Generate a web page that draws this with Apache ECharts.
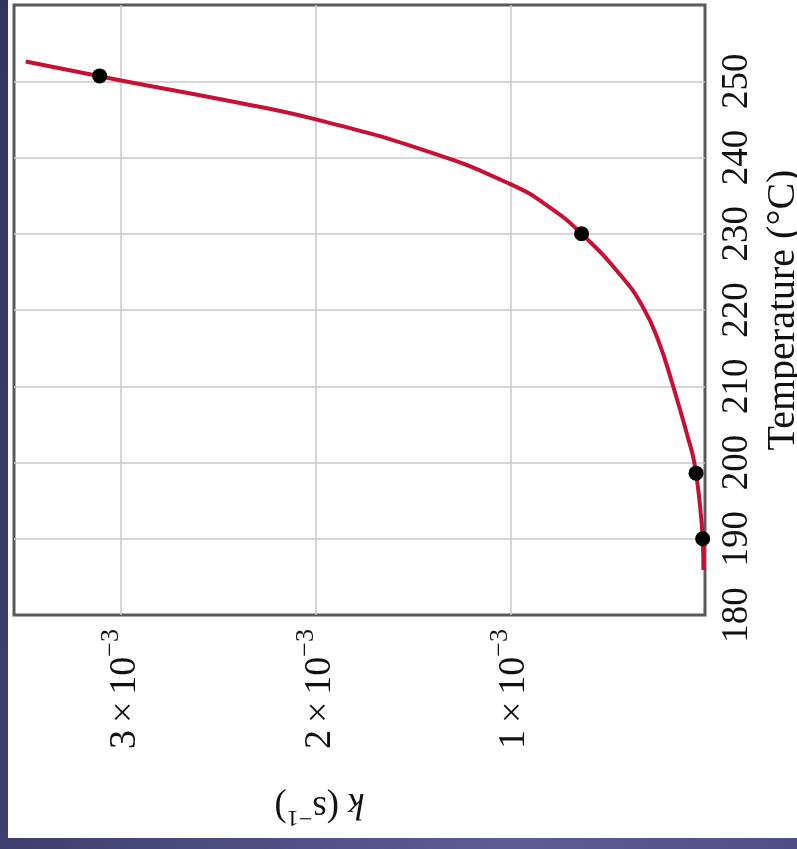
<!DOCTYPE html>
<html>
<head>
<meta charset="utf-8">
<script src="https://cdn.jsdelivr.net/npm/echarts@6/dist/echarts.min.js"></script>
<style>
  html, body { margin: 0; padding: 0; }
  body {
    width: 797px; height: 849px; position: relative; overflow: hidden;
    background: linear-gradient(100deg, #34355f 0%, #4d4d82 40%, #5d5c93 70%, #4f4f86 100%);
  }
  #paper { position: absolute; left: 8px; top: 0; width: 789px; height: 838px; background: #fff; }
  #chart { position: absolute; left: 0; top: 0; width: 797px; height: 849px; }
</style>
</head>
<body>
<div id="paper"></div>
<div id="chart"></div>
<script>
  // k in units of 1e-3 s^-1, temperature in degC
  var kTicks = [1, 2, 3];
  var tempTicks = [180, 190, 200, 210, 220, 230, 240, 250];

  // measured points
  var pointK = [3.11, 0.634, 0.046, 0.012];
  var pointT = [250.7, 230, 198.6, 190];

  // fitted curve
  var curveK = [3.49, 3.0, 2.442, 2.0, 1.414, 1.0, 0.8, 0.634, 0.428, 0.317, 0.240, 0.166, 0.087, 0.055, 0.026, 0.012, 0.008];
  var curveT = [252.6, 250.1, 247.4, 245.0, 240.7, 236.5, 233.5, 230, 224.4, 220.3, 216.0, 210.2, 203.2, 200, 194.4, 190, 185.9];

  var serif = 'Liberation Serif';
  var ink = '#111';

  function pairs(xs, ys) {
    var out = [];
    for (var i = 0; i < xs.length; i++) {
      out.push([xs[i], ys[i]]);
    }
    return out;
  }

  var chart = echarts.init(document.getElementById('chart'));
  var option = {
    backgroundColor: 'transparent',
    animation: false,
    grid: {
      left: 14, right: 92, top: 5, bottom: 234,
      outerBoundsMode: 'none',
      containLabel: false,
      show: true, backgroundColor: '#fff', borderColor: '#5a5a5a', borderWidth: 3
    },
    xAxis: {
      type: 'value',
      inverse: true,
      min: 0, max: 3.55, interval: 1,
      axisLine: { show: false },
      axisTick: { show: false },
      splitLine: { showMinLine: false, showMaxLine: false, lineStyle: { color: '#c8c8c8', width: 1.5 } },
      axisLabel: {
        rotate: 90,
        margin: 14,
        fontFamily: serif,
        fontSize: 38,
        color: ink,
        showMinLabel: false,
        showMaxLabel: false,
        formatter: function (v) {
          if (kTicks.indexOf(Math.round(v * 100) / 100) < 0) return '';
          return '{n|' + v + '}{x|×}{n|10}{s|−3}';
        },
        rich: {
          n: { fontFamily: serif, fontSize: 38, color: ink, lineHeight: 46, verticalAlign: 'bottom' },
          x: { fontFamily: serif, fontSize: 38, color: ink, lineHeight: 46, verticalAlign: 'bottom', padding: [0, 7, 0, 7] },
          s: { fontFamily: serif, fontSize: 26, color: ink, lineHeight: 46, verticalAlign: 'top' }
        }
      },
      name: '{i|k} (s{s|−1})',
      nameLocation: 'middle',
      nameRotate: 180,
      nameGap: 170,
      nameTextStyle: {
        padding: [0, 0, 0, 80],
        rich: {
          i: { fontFamily: serif, fontStyle: 'italic', fontSize: 37, color: ink, lineHeight: 44, verticalAlign: 'bottom' },
          s: { fontFamily: serif, fontSize: 24, color: ink, lineHeight: 44, verticalAlign: 'top' }
        },
        fontFamily: serif, fontSize: 37, color: ink, lineHeight: 44
      }
    },
    yAxis: {
      type: 'value',
      position: 'right',
      min: 180, max: 260, interval: 10,
      axisLine: { show: false },
      axisTick: { show: false },
      splitLine: { showMinLine: false, showMaxLine: false, lineStyle: { color: '#c8c8c8', width: 1.5 } },
      axisLabel: {
        rotate: 90,
        margin: 14,
        fontFamily: serif,
        fontSize: 37,
        color: ink,
        formatter: function (v) {
          return tempTicks.indexOf(v) < 0 ? '' : String(v);
        }
      },
      name: 'Temperature (°C)',
      nameLocation: 'middle',
      nameRotate: 90,
      nameGap: 55,
      nameTextStyle: { fontFamily: serif, fontSize: 40, color: ink }
    },
    series: [
      {
        type: 'line',
        data: pairs(curveK, curveT),
        smooth: 0.5,
        showSymbol: false,
        lineStyle: { color: '#c80f35', width: 4 },
        z: 3
      },
      {
        type: 'scatter',
        data: pairs(pointK, pointT),
        symbolSize: 15,
        itemStyle: { color: '#000', opacity: 1 },
        clip: false,
        z: 5
      }
    ]
  };
  chart.setOption(option);
</script>
</body>
</html>
